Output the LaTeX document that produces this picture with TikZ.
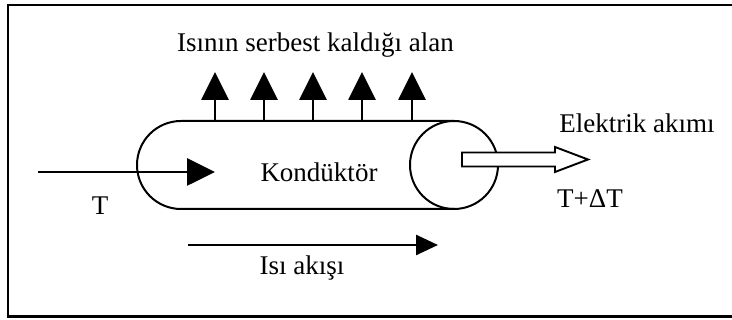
\documentclass[tikz,border=0pt]{standalone}
\usepackage{fontspec}
\setmainfont{Liberation Serif}
\usetikzlibrary{arrows.meta}
\tikzset{
  lbl/.style={inner sep=0pt, anchor=base, font=\fontsize{27}{32}\selectfont},
  outline/.style={line width=2pt},
  bigarrow/.style={line width=2.8pt, -{Triangle[length=28pt,width=27pt]}},
  flowarrow/.style={line width=2.6pt, -{Triangle[length=22pt,width=20pt]}},
  hollow/.style={line width=1.9pt, fill=white, line join=miter}
}
\begin{document}
\begin{tikzpicture}[x=1pt,y=1pt]
\useasboundingbox (0,0) rectangle (732,320);
% frame (right side lies outside the picture)
\draw[line width=2.8pt] (740,315) -- (8,315) -- (8,3.5) -- (740,3.5);
% conductor
\draw[outline] (454,199) -- (181,199) arc[start angle=90,end angle=270,radius=44] -- (454,111);
\draw[outline] (454,155) circle[radius=44];
% upward arrows
\foreach \x [count=\i] in {215,264,313,362,412}{
  \coordinate (u\i) at (\x,199);
  \coordinate (v\i) at (\x,248);
  \draw[bigarrow] (u\i) -- (v\i);
}
% input arrow
\coordinate (inA) at (38,148);
\coordinate (inB) at (215,148);
\draw[bigarrow] (inA) -- (inB);
% heat flow arrow
\coordinate (hA) at (188,75);
\coordinate (hB) at (438,75);
\draw[flowarrow] (hA) -- (hB);
% hollow current arrow
\draw[hollow] (462,167.5) -- (555,167.5) -- (555,173) -- (588,160.5) -- (555,148) -- (555,153.5) -- (462,153.5) -- cycle;
% labels
\node[lbl] (top) at (315.5,268) {Isının serbest kaldığı alan};
\node[lbl] (kond) at (319,138) {Kondüktör};
\node[lbl] (elek) at (637,187) {Elektrik akımı};
\node[lbl] (tdt) at (590,112) {T+ΔT};
\node[lbl] (t) at (100,105) {T};
\node[lbl] (isi) at (302,45) {Isı akışı};
\end{tikzpicture}
\end{document}
